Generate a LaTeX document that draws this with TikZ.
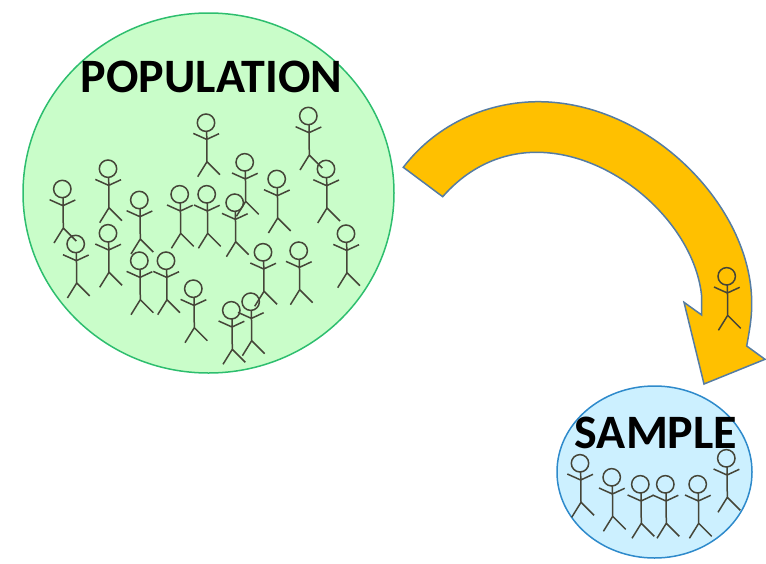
\documentclass[tikz,border=0pt]{standalone}
\usepackage{fontspec}
\setmainfont{Carlito}
\definecolor{popfill}{HTML}{C9FDC9}
\definecolor{popline}{HTML}{2DBE6E}
\definecolor{samfill}{HTML}{CCF0FF}
\definecolor{samline}{HTML}{2E8ACB}
\definecolor{arrfill}{HTML}{FFC000}
\definecolor{arrline}{HTML}{557CA3}
\definecolor{figline}{HTML}{454538}
\tikzset{
  person/.pic={
    \draw[figline,line width=1.5pt] (0,0) circle[radius=8.7pt];
    \draw[figline,line width=1.5pt] (0.7,8.7) -- (1,39) (-12.7,10.7) -- (0.7,16.7) -- (13,11)
      (-8.3,54) -- (1,39) -- (14,52);
  },
  biglabel/.style={font=\bfseries\fontsize{48}{48}\selectfont,text=black,inner sep=0pt}
}
\begin{document}
\begin{tikzpicture}[x=1pt,y=-1pt]
\useasboundingbox (0,0) rectangle (766,563);
% population
\filldraw[fill=popfill,draw=popline,line width=1.5pt] (208.5,193) ellipse[x radius=185.5pt,y radius=180pt];
\foreach \px/\py in {206/122.7,308.3/116,244.7/162.3,326/169,108/168.7,276.7/179,62.3/189,139.3/200,179.7/194.3,206.7/194.3,234.7/202.7,75.7/244,108/233.3,139.3/260.7,166/260.7,263/252.3,298.7/250.7,346/233.7,193.3/288.7,250.7/301.7,231.3/310.3}
  \pic at (\px,\py) {person};
\node[biglabel] (pop) at (211.5,77) {POPULATION};
% sample
\filldraw[fill=samfill,draw=samline,line width=1.5pt] (654.5,472) ellipse[x radius=97.5pt,y radius=86pt];
\foreach \px/\py in {580/463.3,611.7/477.3,640.3/484.3,665.3/484.3,697.7/484.3,726.3/458.3}
  \pic at (\px,\py) {person};
\node[biglabel] (sam) at (656,433) {SAMPLE};
% arrow
\filldraw[fill=arrfill,draw=arrline,line width=1.5pt,line join=miter]
  (403.3,167.3) .. controls (438,122) and (490,101.7) .. (538.3,101.7)
  .. controls (648,101.7) and (751.7,205) .. (751.7,303)
  .. controls (752,318) and (749,333) .. (746.7,346)
  -- (765,359.3) -- (704,384) -- (684,302.3) -- (701.7,315)
  -- (701.7,296.7)
  .. controls (695,225) and (615,152.3) .. (536.7,152.3)
  .. controls (498,152.3) and (466,170) .. (442.7,196.7)
  -- cycle;
\pic at (726.7,276.3) {person};
\end{tikzpicture}
\end{document}
